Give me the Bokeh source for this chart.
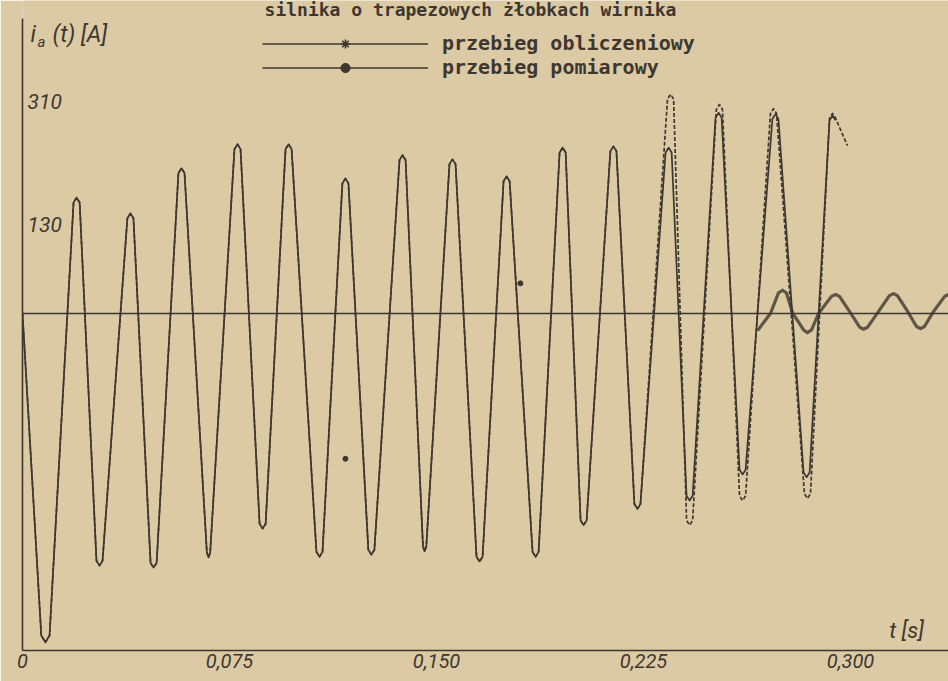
from bokeh.plotting import figure
from bokeh.models import Range1d, Span, Label, Legend, LegendItem, FixedTicker, ColumnDataSource
from bokeh.embed import file_html
from bokeh.resources import INLINE

# ---------------- data ----------------
tytul = "silnika o trapezowych żłobkach wirnika"
seria_obl = "przebieg obliczeniowy"
seria_pom = "przebieg pomiarowy"
x_ticks = [0.0, 0.075, 0.150, 0.225, 0.300]
x_tick_labels = ["0", "0,075", "0,150", "0,225", "0,300"]
y_tick_values = [310, 130]
y_tick_labels = ["310", "130"]

# calculated current i_a(t) [A] vs t [s]
t_obl = [0.0,
         0.0068, 0.0083, 0.0098,
         0.0185, 0.0196, 0.0207,
         0.0268, 0.0279, 0.0290,
         0.0380, 0.0391, 0.0402,
         0.0464, 0.0475, 0.0486,
         0.0565, 0.0576, 0.0587,
         0.0668, 0.0674, 0.0680,
         0.0768, 0.0779, 0.0790,
         0.0859, 0.0870, 0.0881,
         0.0953, 0.0964, 0.0975,
         0.1065, 0.1076, 0.1087,
         0.1159, 0.1170, 0.1181,
         0.1253, 0.1264, 0.1275,
         0.1366, 0.1377, 0.1388,
         0.1451, 0.1457, 0.1463,
         0.1547, 0.1558, 0.1569,
         0.1645, 0.1656, 0.1667,
         0.1743, 0.1754, 0.1765,
         0.1848, 0.1859, 0.1870,
         0.1946, 0.1957, 0.1968,
         0.2022, 0.2033, 0.2044,
         0.2130, 0.2141, 0.2152,
         0.2217, 0.2228, 0.2239,
         0.2330, 0.2341, 0.2352,
         0.2406, 0.2417, 0.2428,
         0.2511, 0.2522, 0.2533,
         0.2598, 0.2609, 0.2620,
         0.2717, 0.2728, 0.2739,
         0.2830, 0.2841, 0.2852,
         0.2924, 0.2935, 0.2946]
i_obl = [0,
         -470, -480, -470,
         162, 169, 162,
         -361, -368, -361,
         139, 146, 139,
         -364, -371, -364,
         205, 212, 205,
         -349, -356, -349,
         240, 247, 240,
         -307, -314, -307,
         240, 247, 240,
         -348, -355, -348,
         190, 197, 190,
         -345, -352, -345,
         224, 231, 224,
         -340, -347, -340,
         218, 225, 218,
         -355, -362, -355,
         193, 200, 193,
         -348, -355, -348,
         235, 242, 235,
         -302, -309, -302,
         237, 244, 237,
         -278, -285, -278,
         235, 242, 235,
         -266, -273, -266,
         286, 293, 286,
         -228, -235, -228,
         284, 291, 284,
         -232, -239, -232,
         282, 289, 282]

# measured current: coincides with the calculated one up to ~0.224 s
t_pom = t_obl[:70] + [0.2337, 0.2348, 0.2359,
                      0.2406, 0.2417, 0.2428,
                      0.2514, 0.2525, 0.2536,
                      0.2598, 0.2609, 0.2620,
                      0.2710, 0.2721, 0.2732,
                      0.2833, 0.2844, 0.2855,
                      0.2924, 0.2935, 0.2946,
                      0.2989]
i_pom = i_obl[:70] + [313, 320, 313,
                      -302, -309, -302,
                      298, 305, 298,
                      -266, -273, -266,
                      292, 299, 292,
                      -263, -270, -263,
                      285, 292, 285,
                      245]

# small steady-state oscillation at the end
t_ust = [0.2663, 0.2710, 0.2739, 0.2754, 0.2768, 0.2790, 0.2830, 0.2844, 0.2859,
         0.2884, 0.2931, 0.2946, 0.2960, 0.3000, 0.3033, 0.3047, 0.3062, 0.3098,
         0.3141, 0.3156, 0.3170, 0.3207, 0.3239, 0.3254, 0.3268, 0.3301, 0.3341, 0.3355]
i_ust = [-25, 0, 30, 34, 30, 1, -24, -28, -24,
         0, 25, 28, 25, 1, -20, -23, -20, 1,
         26, 29, 26, 3, -19, -22, -19, 3, 25, 28]

# isolated measured points
t_pkt = [0.1170, 0.1804]
i_pkt = [-212, 44]

# ---------------- styling ----------------
BG = "#dccaa5"
INK = "#3e3730"

W, H = 948, 681
LEFT, BOTTOM = 22, 31
FW, FH = W - LEFT, H - BOTTOM
PX_PER_S = 2760.0
PX_PER_A = 0.685
ZERO_PY = 313


def tx(px):
    return (px - LEFT) / PX_PER_S


def iy(py):
    return (ZERO_PY - py) / PX_PER_A


x_range = Range1d(0.0, FW / PX_PER_S)
y_range = Range1d(iy(FH), iy(0))

p = figure(width=W, height=H, x_range=x_range, y_range=y_range,
           output_backend="svg", toolbar_location=None,
           min_border_left=LEFT, min_border_right=0, min_border_top=0,
           min_border_bottom=BOTTOM)
p.background_fill_color = BG
p.border_fill_color = BG
p.outline_line_color = None
p.grid.visible = False

# x axis
xa = p.xaxis[0]
xa.ticker = FixedTicker(ticks=x_ticks)
xa.major_label_overrides = {t: s for t, s in zip(x_ticks, x_tick_labels)}
xa.major_tick_in = 0
xa.major_tick_out = 0
xa.minor_tick_in = 0
xa.minor_tick_out = 0
xa.axis_line_color = INK
xa.axis_line_width = 1.6
xa.major_label_text_font = "Roboto"
xa.major_label_text_font_style = "italic"
xa.major_label_text_font_size = "20px"
xa.major_label_text_color = INK
xa.major_label_standoff = 3

# y axis (line only)
ya = p.yaxis[0]
ya.ticker = FixedTicker(ticks=[])
ya.major_tick_in = 0
ya.major_tick_out = 0
ya.minor_tick_in = 0
ya.minor_tick_out = 0
ya.major_label_text_font_size = "0px"
ya.axis_line_color = INK
ya.axis_line_width = 1.6
ya.bounds = (iy(FH), iy(18))

# zero line
p.add_layout(Span(location=0, dimension="width", line_color=INK, line_width=1.4))

# curves
src_obl = ColumnDataSource(dict(t=t_obl, i=i_obl))
src_pom = ColumnDataSource(dict(t=t_pom, i=i_pom))
src_ust = ColumnDataSource(dict(t=t_ust, i=i_ust))

r_pom = p.line("t", "i", source=src_pom, line_color=INK, line_width=1.7,
               line_dash="4 2", line_join="round")
r_obl = p.line("t", "i", source=src_obl, line_color=INK, line_width=1.7,
               line_join="round")
r_ust = p.line("t", "i", source=src_ust, line_color=INK, line_width=3.2,
               line_alpha=0.8, line_join="round")
r_pkt = p.scatter(t_pkt, i_pkt, size=5, marker="circle", color=INK)

# legend-only renderers (hidden in the plot, solid line + marker in the legend)
leg_line_obl = p.line("t", "i", source=src_obl, line_color=INK, line_width=1.6, visible=False)
leg_mark_obl = p.scatter("t", "i", source=src_obl, marker="asterisk", size=9,
                         line_color=INK, line_width=1.6, visible=False)
leg_line_pom = p.line("t", "i", source=src_pom, line_color=INK, line_width=1.6, visible=False)
leg_mark_pom = p.scatter("t", "i", source=src_pom, marker="circle", size=4,
                         color=INK, visible=False)

legend = Legend(items=[LegendItem(label=seria_obl, renderers=[leg_line_obl, leg_mark_obl]),
                       LegendItem(label=seria_pom, renderers=[leg_line_pom, leg_mark_pom])],
                location=(262 - LEFT, FH - 79),
                glyph_width=166, glyph_height=23, label_height=23, spacing=0,
                label_standoff=14, padding=0, margin=0,
                border_line_color=None, background_fill_alpha=0,
                label_text_font="DejaVu Sans Mono", label_text_font_style="bold",
                label_text_font_size="20px", label_text_color=INK)
p.add_layout(legend)

# texts
p.add_layout(Label(x=tx(470), y=iy(19), text=tytul, text_align="center",
                   text_baseline="bottom", text_font="DejaVu Sans Mono",
                   text_font_style="bold", text_font_size="18px", text_color=INK))

ital = dict(text_font="Roboto", text_font_style="italic", text_color=INK)
p.add_layout(Label(x=tx(30), y=iy(34), text="i", text_align="left",
                   text_baseline="middle", text_font_size="23px", **ital))
p.add_layout(Label(x=tx(37), y=iy(41), text="a", text_align="left",
                   text_baseline="middle", text_font_size="15px", **ital))
p.add_layout(Label(x=tx(52), y=iy(34), text="(t) [A]", text_align="left",
                   text_baseline="middle", text_font_size="23px", **ital))

for v, s in zip(y_tick_values, y_tick_labels):
    p.add_layout(Label(x=tx(27), y=v, text=s, text_align="left",
                       text_baseline="middle", text_font_size="21px", **ital))

p.add_layout(Label(x=tx(906), y=iy(630), text="t [s]", text_align="center",
                   text_baseline="middle", text_font_size="22px", **ital))

open("out.html", "w").write(file_html(p, INLINE))
